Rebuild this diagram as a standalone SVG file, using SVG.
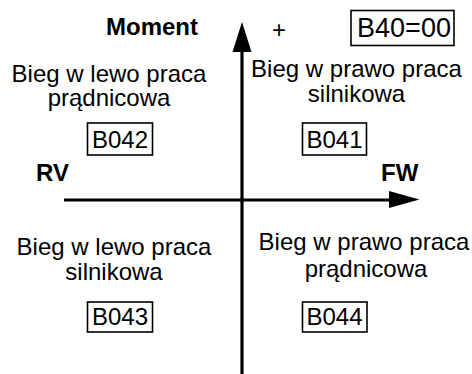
<svg xmlns="http://www.w3.org/2000/svg" width="472" height="374" viewBox="0 0 472 374">
<style>
text{font-family:"Liberation Sans",Arial,sans-serif;font-size:24px;fill:#000}
.c{text-anchor:middle}
.b{font-weight:bold}
.big{font-size:27px}
.box{fill:none;stroke:#000;stroke-width:1.6}
.ax{stroke:#000;stroke-width:3.2;fill:none}
</style>
<rect width="472" height="374" fill="#fff"/>
<g id="connectors">
<line class="ax" x1="242" y1="374" x2="242" y2="48"/>
<polygon points="242,22 251.5,52 232.5,52" fill="#000"/>
<line class="ax" x1="64" y1="200" x2="392" y2="200"/>
<polygon points="419.5,199.5 389,191 389,208" fill="#000"/>
</g>
<g id="moment"><text class="b" x="106" y="35">Moment</text></g>
<g id="plus"><text x="272" y="38">+</text></g>
<g id="b40"><rect class="box" x="351" y="10.5" width="103" height="35"/><text class="c big" x="404" y="37">B40=00</text></g>
<g id="q2"><text class="c" x="109" y="81.5">Bieg w lewo praca</text><text class="c" x="109" y="105.5">prądnicowa</text></g>
<g id="b042"><rect class="box" x="87.5" y="123" width="65" height="32"/><text class="c" x="120" y="148">B042</text></g>
<g id="q1"><text class="c" x="356.5" y="77">Bieg w prawo praca</text><text class="c" x="356.5" y="101.5">silnikowa</text></g>
<g id="b041"><rect class="box" x="302.5" y="123" width="64" height="32"/><text class="c" x="334.5" y="148">B041</text></g>
<g id="rv"><text class="b" x="36" y="181">RV</text></g>
<g id="fw"><text class="b" x="381" y="181">FW</text></g>
<g id="q3"><text class="c" x="114" y="255">Bieg w lewo praca</text><text class="c" x="114" y="280">silnikowa</text></g>
<g id="b043"><rect class="box" x="87.5" y="302" width="65" height="30"/><text class="c" x="120" y="325">B043</text></g>
<g id="q4"><text class="c" x="364" y="250">Bieg w prawo praca</text><text class="c" x="366" y="276.5">prądnicowa</text></g>
<g id="b044"><rect class="box" x="302.5" y="302" width="64.5" height="30"/><text class="c" x="334.5" y="325">B044</text></g>
</svg>
